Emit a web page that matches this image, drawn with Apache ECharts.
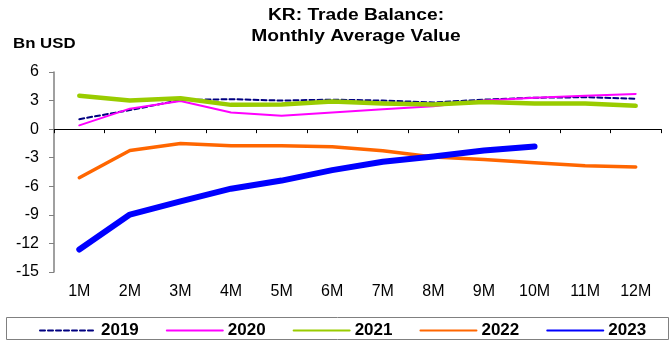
<!DOCTYPE html>
<html>
<head>
<meta charset="utf-8">
<script src="https://cdn.jsdelivr.net/npm/echarts@6/dist/echarts.min.js"></script>
<style>
  html, body { margin: 0; padding: 0; background: #fff; }
  #chart { width: 670px; height: 349px; }
</style>
</head>
<body>
<div id="chart"></div>
<script>
// Months of the year
const months = ['1M', '2M', '3M', '4M', '5M', '6M', '7M', '8M', '9M', '10M', '11M', '12M'];

// Monthly average trade balance, Bn USD
const y2019 = [1.05, 2.0, 3.05, 3.15, 3.0, 3.1, 3.0, 2.8, 3.1, 3.3, 3.35, 3.2];
const y2020 = [0.4, 2.15, 2.95, 1.75, 1.4, 1.75, 2.1, 2.4, 3.0, 3.3, 3.5, 3.7];
const y2021 = [3.5, 3.0, 3.25, 2.55, 2.6, 2.9, 2.7, 2.6, 2.85, 2.7, 2.7, 2.45];
const y2022 = [-5.1, -2.25, -1.5, -1.75, -1.75, -1.85, -2.27, -2.93, -3.2, -3.53, -3.84, -3.98];
const y2023 = [-12.64, -8.97, -7.58, -6.25, -5.4, -4.3, -3.42, -2.87, -2.24, -1.82];

// Value axis ticks
const yMin = -15, yMax = 6, yStep = 3;

const chart = echarts.init(document.getElementById('chart'), null, { renderer: 'canvas' });

const FONT = 'Arial, "Liberation Sans", sans-serif';

function lineSeries(name, data, color, width, type) {
  return {
    name: name,
    type: 'line',
    data: data,
    symbol: 'none',
    smooth: false,
    lineStyle: { color: color, width: width, type: type || 'solid', cap: 'round', join: 'round' },
    itemStyle: { color: color },
    emphasis: { disabled: true },
    xAxisIndex: 0,
    yAxisIndex: 0
  };
}

chart.setOption({
  animation: false,
  backgroundColor: '#ffffff',
  grid: { left: 54, right: 9, top: 72, bottom: 77, containLabel: false },
  xAxis: [
    {
      // month labels along the bottom edge
      type: 'category',
      data: months,
      position: 'bottom',
      boundaryGap: true,
      axisLine: { show: false, onZero: false },
      axisTick: { show: false },
      axisLabel: { color: '#000', fontFamily: FONT, fontSize: 16, margin: 12 },
      splitLine: { show: false }
    },
    {
      // axis line and ticks sitting on zero
      type: 'category',
      data: months,
      position: 'top',
      boundaryGap: true,
      axisLine: { show: true, onZero: true, lineStyle: { color: '#000', width: 1 } },
      axisTick: { show: true, inside: true, length: 4, lineStyle: { color: '#000' } },
      axisLabel: { show: false },
      splitLine: { show: false }
    }
  ],
  yAxis: {
    type: 'value',
    min: yMin,
    max: yMax,
    interval: yStep,
    axisLine: { show: true, onZero: false, lineStyle: { color: '#808080', width: 1.5 } },
    axisTick: { show: true, length: 5, lineStyle: { color: '#808080' } },
    axisLabel: { color: '#000', fontFamily: FONT, fontSize: 16, margin: 15 },
    splitLine: { show: false }
  },
  legend: {
    left: 34,
    top: 317,
    itemWidth: 56,
    itemHeight: 14,
    itemGap: 27,
    itemStyle: { opacity: 0 },
    textStyle: { color: '#000', fontFamily: FONT, fontSize: 17, fontWeight: 'bold', padding: [0, 0, 0, 0] },
    data: ['2019', '2020', '2021', '2022', '2023'],
    selectedMode: false
  },
  graphic: [
    {
      type: 'rect',
      shape: { x: 6.5, y: 317.5, width: 662, height: 22 },
      style: { fill: 'none', stroke: '#808080', lineWidth: 1 },
      z: 0
    },
    {
      type: 'text',
      x: 356, y: 5,
      scaleX: 1.2,
      style: {
        x: 0, y: 0,
        text: 'KR: Trade Balance:\nMonthly Average Value',
        textAlign: 'center',
        font: 'bold 16px ' + FONT,
        lineHeight: 21,
        fill: '#000'
      }
    },
    {
      type: 'text',
      x: 13, y: 37,
      scaleX: 1.2,
      style: {
        x: 0, y: 0,
        text: 'Bn USD',
        font: 'bold 14px ' + FONT,
        fill: '#000'
      }
    }
  ],
  series: [
    lineSeries('2019', y2019, '#000080', 2, [5, 3]),
    lineSeries('2020', y2020, '#ff00ff', 2),
    lineSeries('2021', y2021, '#99cc00', 4.5),
    lineSeries('2022', y2022, '#ff6600', 3.5),
    lineSeries('2023', y2023, '#0000ff', 6)
  ]
});
</script>
</body>
</html>
